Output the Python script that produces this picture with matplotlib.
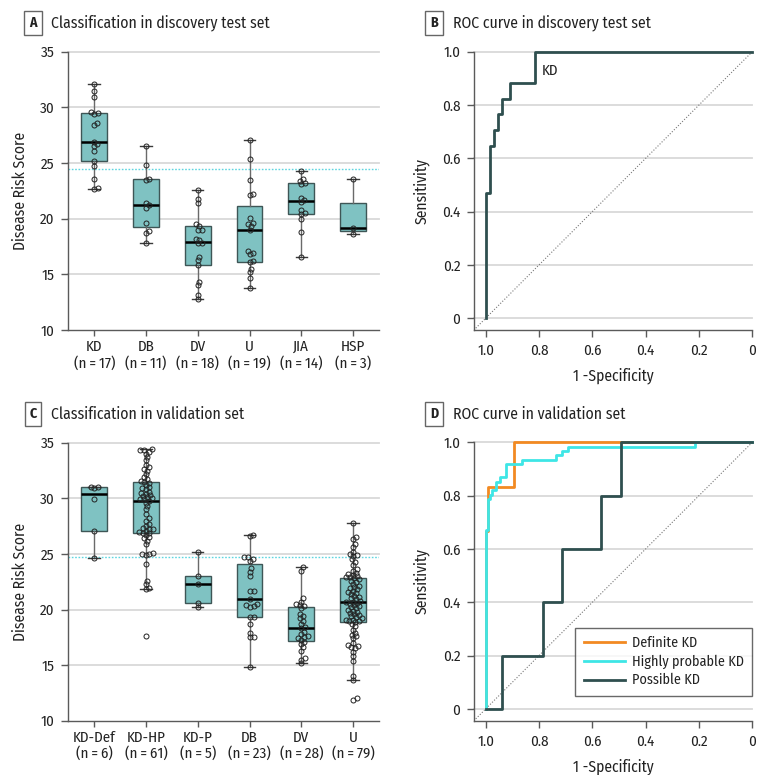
import numpy as np
import matplotlib
matplotlib.use("Agg")
import matplotlib.pyplot as plt

plt.rcParams['font.family'] = ['Fira Sans Condensed', 'Roboto Condensed', 'DejaVu Sans']

# ---------------- Data ----------------
# Panel A: discovery test set
cats_a = ["KD", "DB", "DV", "U", "JIA", "HSP"]
ns_a = [17, 11, 18, 19, 14, 3]
kd_a = [32.1, 31.5, 30.9, 29.6, 29.5, 29.4, 28.6, 28.4, 26.9, 26.7, 26.5, 26.1, 25.2, 24.7, 23.6, 22.8, 22.7]
db_a = [26.5, 24.8, 23.6, 23.5, 21.4, 21.2, 21.0, 19.6, 18.9, 18.7, 17.8]
dv_a = [22.6, 21.8, 21.4, 19.5, 19.3, 19.0, 19.0, 18.2, 18.1, 17.8, 17.8, 16.6, 16.3, 15.8, 14.3, 14.0, 13.1, 12.75]
u_a = [27.1, 25.4, 23.5, 22.2, 22.1, 20.1, 19.6, 19.5, 19.3, 19.0, 17.1, 16.9, 16.8, 16.2, 16.1, 15.5, 15.2, 14.7, 13.8]
jia_a = [24.3, 23.6, 23.4, 23.2, 23.1, 21.9, 21.7, 21.5, 20.8, 20.5, 20.4, 20.0, 18.8, 16.6]
hsp_a = [23.6, 19.2, 18.6]
threshold_a = 24.45

# Panel C: validation set
cats_c = ["KD-Def", "KD-HP", "KD-P", "DB", "DV", "U"]
ns_c = [6, 61, 5, 23, 28, 79]
kddef_c = [31.0, 31.0, 30.9, 29.9, 27.1, 24.6]
kdhp_c = [34.4, 34.3, 34.3, 34.2, 34.0, 33.7, 33.4, 33.0, 32.8, 32.6, 32.5, 32.2, 31.9, 31.7, 31.6,
          31.5,
          31.4, 31.2, 31.0, 30.9, 30.8, 30.6, 30.5, 30.4, 30.3, 30.2, 30.1, 30.0, 29.9, 29.9,
          29.8,
          29.6, 29.3, 29.0, 28.6, 28.2, 28.0, 27.7, 27.5, 27.3, 27.2, 27.2, 27.1, 27.0, 26.9,
          26.85,
          26.7, 26.5, 26.4, 26.2, 25.9, 25.1, 25.0, 25.0, 24.9, 24.1, 22.6, 22.3, 21.9, 21.8, 17.6]
kdp_c = [25.2, 23.0, 22.3, 20.6, 20.25]
db_c = [26.7, 26.6, 24.75, 24.7, 24.5, 24.4, 23.7, 23.4, 23.0, 21.7, 21.65, 20.9, 20.5, 20.4,
        20.3, 20.25, 19.3, 19.3, 18.7, 17.85, 17.55, 17.5, 14.85]
dv_c = [23.8, 23.5, 21.0, 20.7, 20.5, 20.4, 20.3, 20.1, 19.6, 19.4, 19.2, 19.0, 18.7, 18.4, 18.3,
        18.0, 17.8, 17.6, 17.5, 17.4, 17.3, 17.1, 16.9, 16.6, 16.3, 15.6, 15.5, 15.15]
u_c = [27.8, 26.5, 26.3, 25.9, 25.6, 25.2, 25.0, 24.9, 24.8, 24.5, 24.3, 24.0, 23.6, 23.5, 23.3,
       23.2, 23.1, 23.0, 22.95, 22.9, 22.8,
       22.7, 22.6, 22.5, 22.3, 22.1, 22.0, 21.9, 21.8, 21.7, 21.6, 21.5, 21.4, 21.2, 21.1, 21.0,
       20.9, 20.8, 20.7, 20.65,
       20.6, 20.5, 20.4, 20.3, 20.2, 20.1, 20.0, 19.9, 19.8, 19.7, 19.6, 19.5, 19.4, 19.3, 19.2,
       19.1, 19.05, 19.0, 18.95, 18.85,
       18.7, 18.5, 18.2, 17.9, 17.7, 17.6, 17.4, 17.0, 16.8, 16.7, 16.6, 16.5, 16.2, 15.8, 15.4,
       14.05, 13.65, 12.0, 11.9]
threshold_c = 24.7

# Panel B: ROC discovery (x = 1-specificity axis, reversed)
roc_b_x = [1.0, 1.0, 0.985, 0.969, 0.954, 0.938, 0.908, 0.815, 0.0]
roc_b_y = [0.0, 0.471, 0.647, 0.706, 0.765, 0.824, 0.882, 1.0, 1.0]

# Panel D: ROC validation
roc_def_x = [1.0, 1.0, 0.992, 0.892, 0.0]
roc_def_y = [0.0, 0.667, 0.833, 1.0, 1.0]
roc_hp_x = [1.0, 1.0, 0.992, 0.985, 0.977, 0.962, 0.946, 0.923, 0.865, 0.738, 0.715, 0.692, 0.215, 0.0]
roc_hp_y = [0.0, 0.672, 0.787, 0.803, 0.820, 0.852, 0.869, 0.918, 0.934, 0.951, 0.967, 0.984, 1.0, 1.0]
roc_p_x = [1.0, 0.94, 0.784, 0.715, 0.569, 0.494, 0.0]
roc_p_y = [0.0, 0.2, 0.4, 0.6, 0.8, 1.0, 1.0]
roc_labels = ["Definite KD", "Highly probable KD", "Possible KD"]

# ---------------- Styles ----------------
BOX_FILL = "#7fc2c2"
BOX_EDGE = "#3e5656"
SPINE = "#5a5a5a"
GRID = "#d9d9d9"
THRESH = "#5fd6e0"
DARK = "#2f4f4f"
ORANGE = "#f28a22"
CYAN = "#3ee6e6"
TXT = "#222222"
FS_TICK = 10.8
FS_LAB = 11.2
FS_TITLE = 11.3
FS_LEG = 10.2

W, H = 780, 775
fig = plt.figure(figsize=(W / 100, H / 100), dpi=100)


def ax_at(x0, y0, x1, y1):
    return fig.add_axes([x0 / W, 1 - y1 / H, (x1 - x0) / W, (y1 - y0) / H])


def tukey_stats(vals):
    v = np.sort(np.asarray(vals, float))
    n = len(v)
    med = np.median(v)
    q1 = np.median(v[:(n + 1) // 2])
    q3 = np.median(v[n // 2:])
    iqr = q3 - q1
    lo = v[v >= q1 - 1.5 * iqr].min()
    hi = v[v <= q3 + 1.5 * iqr].max()
    return dict(med=med, q1=q1, q3=q3, whislo=lo, whishi=hi, fliers=[])


def swarm(vals, ypx, xpx, d=3.6):
    vals = np.asarray(vals, float)
    order = np.argsort(vals)
    placed = []
    offs = np.zeros(len(vals))
    cands = [0.0]
    for k in range(1, 80):
        cands += [k * 0.5, -k * 0.5]
    for i in order:
        y = vals[i] * ypx
        for c in cands:
            ok = True
            for px, py in placed:
                if (c - px) ** 2 + (y - py) ** 2 < d * d:
                    ok = False
                    break
            if ok:
                break
        placed.append((c, y))
        offs[i] = c / xpx
    return offs


def style_common(ax):
    for s in ["top", "right"]:
        ax.spines[s].set_visible(False)
    for s in ["left", "bottom"]:
        ax.spines[s].set_color(SPINE)
        ax.spines[s].set_linewidth(1.0)
    ax.tick_params(colors=SPINE, labelcolor=TXT, labelsize=FS_TICK, width=1.0)


def box_panel(ax, groups, cats, ns, thresh):
    n = len(groups)
    ax.set_xlim(-0.5, n - 0.5)
    ax.set_ylim(10, 35)
    for yv in [15, 20, 25, 30, 35]:
        ax.axhline(yv, color=GRID, lw=1.3, zorder=0, clip_on=False)
    ax.axhline(thresh, color=THRESH, lw=1.0, ls=(0, (1.2, 1.2)), zorder=1)
    stats = [tukey_stats(g) for g in groups]
    ax.bxp(stats, positions=range(n), widths=0.5, patch_artist=True, showfliers=False,
           boxprops=dict(facecolor=BOX_FILL, edgecolor=BOX_EDGE, linewidth=1.0),
           medianprops=dict(color="black", linewidth=1.8),
           whiskerprops=dict(color="#6a6a6a", linewidth=1.0),
           capprops=dict(color="#3a3a3a", linewidth=1.0), capwidths=0.22,
           manage_ticks=False, zorder=2)
    bb = ax.get_position()
    xpx = bb.width * W / n
    ypx = bb.height * H / 25.0
    for i, g in enumerate(groups):
        offs = swarm(g, ypx, xpx)
        ax.plot(i + offs, g, ls="none", marker="o", ms=3.6, mfc="none", mec=TXT,
                mew=0.7, zorder=3)
    ax.set_xticks(range(n))
    ax.set_xticklabels([f"{c}\n(n\u2009=\u2009{k})" for c, k in zip(cats, ns)],
                       fontsize=FS_TICK, linespacing=1.15)
    ax.set_yticks([10, 15, 20, 25, 30, 35])
    ax.set_ylabel("Disease Risk Score", fontsize=FS_LAB, labelpad=8, color=TXT)
    style_common(ax)
    ax.tick_params(axis="x", length=4, pad=3)
    ax.tick_params(axis="y", length=5, pad=5)


def roc_panel(ax):
    ax.set_xlim(1.0425, 0)
    ax.set_ylim(-0.044, 1.0)
    for yv in [0, 0.2, 0.4, 0.6, 0.8, 1.0]:
        ax.axhline(yv, color=GRID, lw=1.3, zorder=0, clip_on=False)
    ax.plot([1.06, 0], [-0.06, 1.0], color="#777777", lw=0.8, ls=(0, (1, 1.6)), zorder=1)
    ax.set_xticks([1.0, 0.8, 0.6, 0.4, 0.2, 0])
    ax.set_xticklabels(["1.0", "0.8", "0.6", "0.4", "0.2", "0"])
    ax.set_yticks([0, 0.2, 0.4, 0.6, 0.8, 1.0])
    ax.set_yticklabels(["0", "0.2", "0.4", "0.6", "0.8", "1.0"])
    ax.set_xlabel("1 -Specificity", fontsize=FS_LAB, labelpad=7, color=TXT)
    ax.set_ylabel("Sensitivity", fontsize=FS_LAB, labelpad=9, color=TXT)
    style_common(ax)
    ax.tick_params(axis="x", length=5, pad=5)
    ax.tick_params(axis="y", length=5, pad=5)


def panel_title(letter, text, xbox, ybox, xtext):
    fig.text(xbox / W, 1 - ybox / H, letter, ha="center", va="center", fontsize=10,
             fontweight="bold", color=TXT,
             bbox=dict(boxstyle="square,pad=0.35", fc="white", ec="#666666", lw=1.0))
    fig.text(xtext / W, 1 - ybox / H, text, ha="left", va="center", fontsize=FS_TITLE,
             color=TXT)


# Panel A
axA = ax_at(68.3, 51.7, 379, 330)
box_panel(axA, [kd_a, db_a, dv_a, u_a, jia_a, hsp_a], cats_a, ns_a, threshold_a)
panel_title("A", "Classification in discovery test set", 33, 23, 51)

# Panel C
axC = ax_at(68.3, 442.7, 379, 720.7)
box_panel(axC, [kddef_c, kdhp_c, kdp_c, db_c, dv_c, u_c], cats_c, ns_c, threshold_c)
panel_title("C", "Classification in validation set", 33, 414, 51)

# Panel B
axB = ax_at(474.3, 51.7, 752.3, 330)
roc_panel(axB)
axB.plot(roc_b_x, roc_b_y, drawstyle="steps-post", color=DARK, lw=2.0, zorder=3,
         clip_on=False)
axB.text(0.79, 0.93, "KD", fontsize=FS_TICK, ha="left", va="center", color=TXT)
panel_title("B", "ROC curve in discovery test set", 434, 23, 453)

# Panel D
axD = ax_at(474.3, 442.3, 752.3, 720.7)
roc_panel(axD)
axD.plot(roc_def_x, roc_def_y, drawstyle="steps-post", color=ORANGE, lw=2.0, zorder=3,
         clip_on=False, label=roc_labels[0])
axD.plot(roc_hp_x, roc_hp_y, drawstyle="steps-post", color=CYAN, lw=2.0, zorder=4,
         clip_on=False, label=roc_labels[1])
axD.plot(roc_p_x, roc_p_y, drawstyle="steps-post", color=DARK, lw=2.0, zorder=5,
         clip_on=False, label=roc_labels[2])
leg = axD.legend(loc="lower right", bbox_to_anchor=(1.0, 0.089), fontsize=FS_LEG,
                 frameon=True, fancybox=False, edgecolor="#444444", handlelength=2.9,
                 borderpad=0.6, labelspacing=0.3, handletextpad=0.5, borderaxespad=0.0)
leg.get_frame().set_linewidth(1.0)
for t in leg.get_texts():
    t.set_color(TXT)
panel_title("D", "ROC curve in validation set", 434, 414, 453)

fig.savefig("out.png", dpi=100, facecolor="white")
